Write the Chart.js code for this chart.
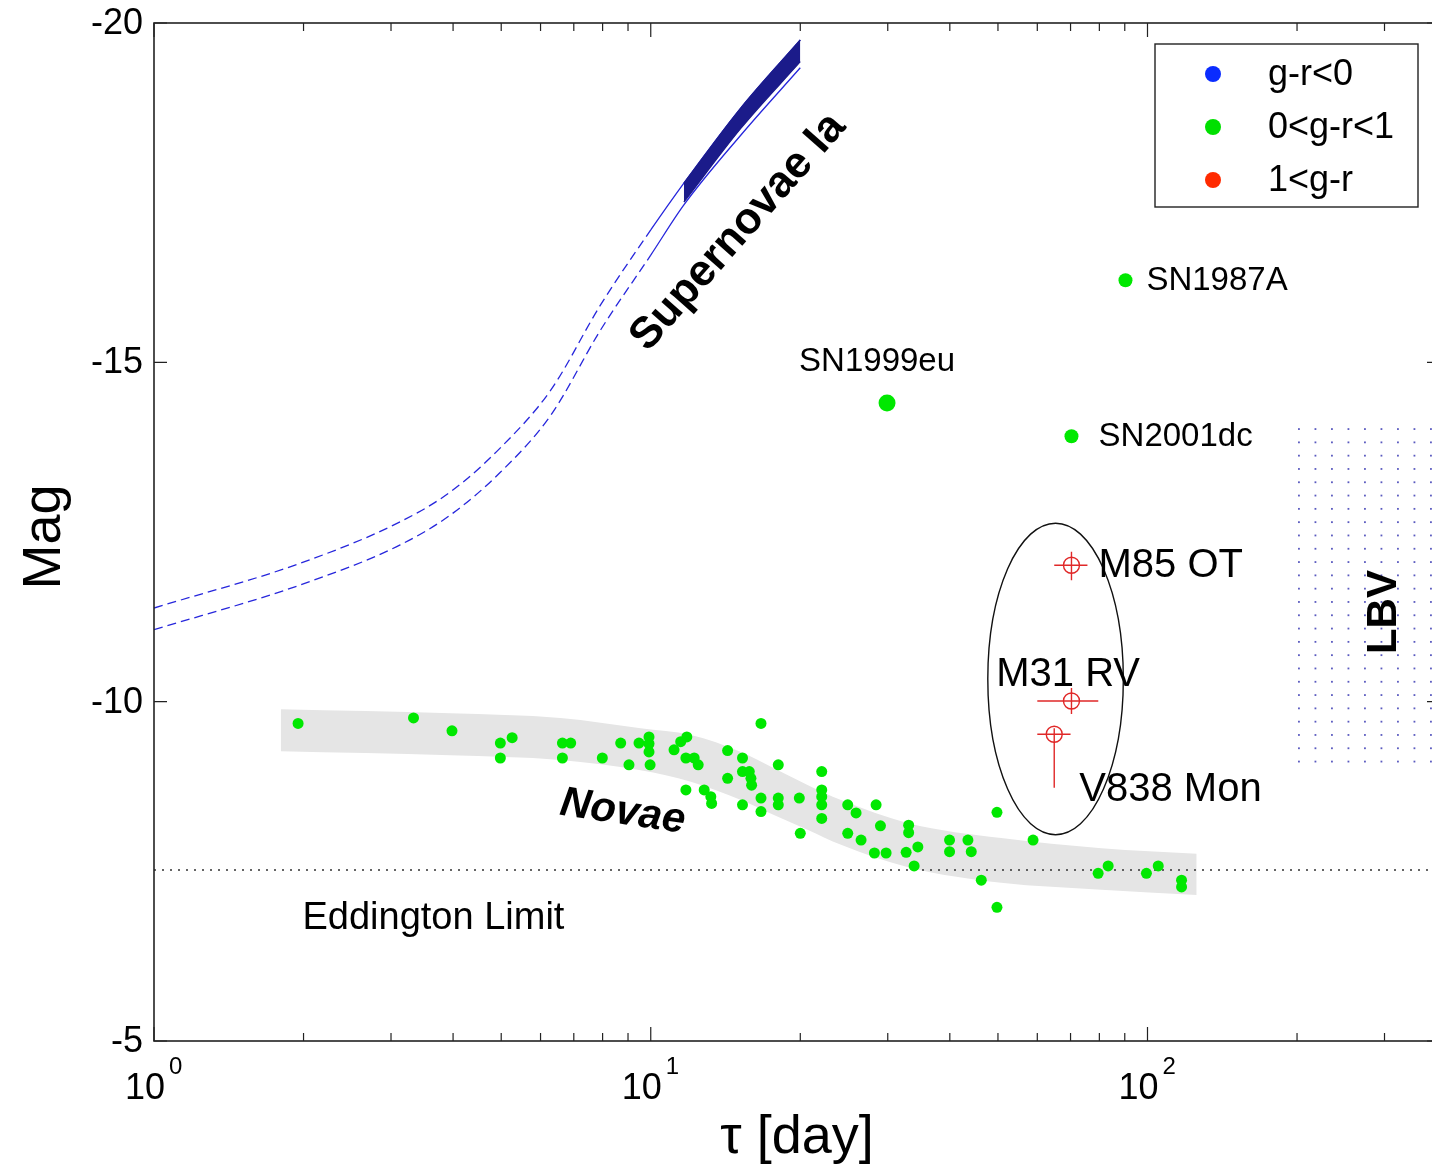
<!DOCTYPE html>
<html>
<head>
<meta charset="utf-8">
<script src="https://cdn.jsdelivr.net/npm/chart.js@4.4.1/dist/chart.umd.min.js"></script>
<style>
  html, body { margin: 0; padding: 0; background: #fff; overflow: hidden; }
  #wrap { width: 1432px; height: 1173px; overflow: hidden; }
  canvas { display: block; }
</style>
</head>
<body>
<div id="wrap"><canvas id="chart" width="1440" height="1173" style="width:1440px;height:1173px"></canvas></div>
<script>
// axis ranges and ticks
const xMin = 1, xMax = 388;
const yMin = -20, yMax = -5;
const yTicks = [-20, -15, -10, -5];
const xMajor = [1, 10, 100];
const xMajorExp = ["0", "1", "2"];
const xMinor = [2, 3, 4, 5, 6, 7, 8, 9, 20, 30, 40, 50, 60, 70, 80, 90, 200, 300];

// novae (0<g-r<1)
const novaeDays = [1.95, 3.33, 3.98, 4.98, 5.26, 4.98, 6.64, 6.90, 6.64, 7.99, 8.70, 9.04, 9.47, 9.92, 9.92,
  9.92, 9.97, 11.14, 11.49, 11.82, 11.77, 12.23, 12.46, 16.67, 11.77, 12.81, 13.21, 13.26, 14.28, 14.28,
  15.30, 15.30, 15.79, 15.91, 15.96, 15.30, 16.67, 16.67, 18.06, 18.06, 18.06, 19.91, 20.0, 22.09, 22.09,
  22.09, 22.09, 22.09, 24.92, 25.90, 24.92, 26.51, 28.42, 29.0, 28.20, 29.77, 33.05, 33.05, 34.49, 32.67,
  33.90, 39.95, 39.95, 43.5, 44.18, 46.28, 49.77, 49.77, 58.83, 79.55, 83.33, 99.5, 105.1, 117.1, 117.1];
const novaeMag = [-9.68, -9.76, -9.57, -9.39, -9.47, -9.17, -9.39, -9.39, -9.17, -9.17, -9.39, -9.07, -9.39, -9.48, -9.38,
  -9.26, -9.07, -9.29, -9.41, -9.48, -9.17, -9.17, -9.07, -9.68, -8.70, -8.70, -8.60, -8.50, -9.28, -8.87,
  -9.17, -8.97, -8.97, -8.87, -8.77, -8.48, -8.58, -8.38, -9.07, -8.58, -8.48, -8.58, -8.06, -8.97, -8.70,
  -8.60, -8.48, -8.28, -8.48, -8.36, -8.06, -7.96, -8.48, -8.17, -7.77, -7.77, -8.18, -8.07, -7.86, -7.78,
  -7.58, -7.96, -7.79, -7.96, -7.79, -7.37, -8.37, -6.97, -7.96, -7.47, -7.58, -7.47, -7.58, -7.37, -7.27];

// novae band
const bandDays = [1.80, 3.95, 6.58, 9.54, 12.04, 15.19, 17.70, 20.73, 24.16, 32.97, 50.77, 80.8, 125.6];
const bandTop = [-9.89, -9.83, -9.76, -9.61, -9.51, -9.26, -9.02, -8.77, -8.55, -8.21, -7.99, -7.84, -7.76];
const bandBottom = [-9.27, -9.21, -9.14, -8.99, -8.82, -8.55, -8.33, -8.11, -7.89, -7.56, -7.33, -7.23, -7.15];

// supernovae Ia
const snDays = [1.0, 1.97, 3.13, 3.95, 4.98, 6.29, 7.93, 10.0, 11.66, 15.19, 20.0];
const snUpper = [-11.38, -12.04, -12.65, -13.09, -13.74, -14.59, -15.85, -16.95, -17.64, -18.75, -19.75];
const snLower = [-11.06, -11.72, -12.31, -12.75, -13.38, -14.22, -15.48, -16.58, -17.32, -18.35, -19.34];
const snFillDays = [11.66, 15.19, 20.0];
const snFillTop = [-17.64, -18.75, -19.75];
const snFillBottom = [-17.36, -18.45, -19.43];

// named supernovae
const snNames = ["SN1987A", "SN1999eu", "SN2001dc"];
const snNamedDays = [90.3, 29.9, 70.3];
const snNamedMag = [-16.21, -14.40, -13.91];

// red transients (1<g-r)
const redNames = ["M85 OT", "M31 RV", "V838 Mon"];
const redDays = [70.3, 70.3, 64.9];
const redMag = [-12.01, -10.01, -9.52];
const redDaysLo = [64.9, 60.0, 60.0];
const redDaysHi = [75.7, 79.6, 70.0];
const redMagLo = [-12.21, -10.20, -9.61];
const redMagHi = [-11.79, -9.82, -8.73];

const eddingtonMag = -7.52;
const lbvDays = [200, 388];
const lbvMag = [-14.03, -8.99];
const ellipseDays = [47.7, 89.4];
const ellipseMag = [-12.63, -8.04];

const colorClasses = ["g-r<0", "0<g-r<1", "1<g-r"];
const classColors = ["#0a2cff", "#00e000", "#ff2a00"];

const GREEN = "#00e800";
const RED = "#e02828";
const FONT = '"Liberation Sans", Arial, sans-serif';

const pts = (xs, ys) => xs.map((v, i) => ({ x: v, y: ys[i] }));

const textLabels = [
  { text: "Supernovae Ia", x: 15.0, y: -16.92, font: "bold 44px " + FONT, align: "center", rot: -48.5 },
  { text: "SN1999eu", x: 28.55, y: -15.0, font: "33px " + FONT, align: "center", rot: 0 },
  { text: "SN1987A", x: 99.5, y: -16.2, font: "33px " + FONT, align: "left", rot: 0 },
  { text: "SN2001dc", x: 79.7, y: -13.9, font: "33px " + FONT, align: "left", rot: 0 },
  { text: "M85 OT", x: 79.7, y: -12.0, font: "40px " + FONT, align: "left", rot: 0 },
  { text: "M31 RV", x: 49.6, y: -10.39, font: "40px " + FONT, align: "left", rot: 0 },
  { text: "V838 Mon", x: 72.9, y: -8.70, font: "40px " + FONT, align: "left", rot: 0 },
  { text: "Eddington Limit", x: 1.99, y: -6.81, font: "38px " + FONT, align: "left", rot: 0 },
  { text: "Novae", x: 8.78, y: -8.37, font: "italic bold 42px " + FONT, align: "center", rot: 8.5 },
  { text: "LBV", x: 300, y: -11.32, font: "bold 42px " + FONT, align: "center", rot: -90 }
];

const regionPlugin = {
  id: "regionPlugin",
  beforeDatasetsDraw(chart) {
    const { ctx, scales: { x, y } } = chart;
    const x0 = x.getPixelForValue(lbvDays[0]), x1 = x.getPixelForValue(lbvDays[1]);
    const y0 = y.getPixelForValue(lbvMag[0]), y1 = y.getPixelForValue(lbvMag[1]);
    ctx.save();
    ctx.fillStyle = "rgba(60,60,180,0.85)";
    for (let py = y0; py <= y1 + 0.5; py += 13.3) {
      for (let px = x0 + 1; px <= x1; px += 16.5) {
        ctx.fillRect(px, py, 1.8, 1.8);
      }
    }
    ctx.restore();
  },
  afterDatasetsDraw(chart) {
    const { ctx, scales: { x, y } } = chart;
    ctx.save();
    // error bars
    ctx.strokeStyle = RED;
    ctx.lineWidth = 1.4;
    ctx.beginPath();
    redDays.forEach((d, i) => {
      const px = x.getPixelForValue(d), py = y.getPixelForValue(redMag[i]);
      ctx.moveTo(x.getPixelForValue(redDaysLo[i]), py);
      ctx.lineTo(x.getPixelForValue(redDaysHi[i]), py);
      ctx.moveTo(px, y.getPixelForValue(redMagLo[i]));
      ctx.lineTo(px, y.getPixelForValue(redMagHi[i]));
    });
    ctx.stroke();
    // ellipse
    const ex0 = x.getPixelForValue(ellipseDays[0]), ex1 = x.getPixelForValue(ellipseDays[1]);
    const ey0 = y.getPixelForValue(ellipseMag[0]), ey1 = y.getPixelForValue(ellipseMag[1]);
    ctx.strokeStyle = "#111";
    ctx.lineWidth = 1.4;
    ctx.beginPath();
    ctx.ellipse((ex0 + ex1) / 2, (ey0 + ey1) / 2, (ex1 - ex0) / 2, (ey1 - ey0) / 2, 0, 0, Math.PI * 2);
    ctx.stroke();
    // text labels
    ctx.fillStyle = "#000";
    ctx.textBaseline = "middle";
    textLabels.forEach(t => {
      ctx.save();
      ctx.translate(x.getPixelForValue(t.x), y.getPixelForValue(t.y));
      ctx.rotate(t.rot * Math.PI / 180);
      ctx.font = t.font;
      ctx.textAlign = t.align;
      ctx.fillText(t.text, 0, 0);
      ctx.restore();
    });
    ctx.restore();
  }
};

const axisPlugin = {
  id: "axisPlugin",
  afterDraw(chart) {
    const { ctx, chartArea: a, scales: { x, y } } = chart;
    ctx.save();
    ctx.strokeStyle = "#222";
    ctx.lineWidth = 1.6;
    ctx.strokeRect(a.left, a.top, a.right - a.left, a.bottom - a.top);
    ctx.lineWidth = 1.2;
    ctx.beginPath();
    xMajor.forEach(v => {
      const px = x.getPixelForValue(v);
      ctx.moveTo(px, a.bottom); ctx.lineTo(px, a.bottom - 14);
      ctx.moveTo(px, a.top); ctx.lineTo(px, a.top + 14);
    });
    xMinor.forEach(v => {
      const px = x.getPixelForValue(v);
      ctx.moveTo(px, a.bottom); ctx.lineTo(px, a.bottom - 8);
      ctx.moveTo(px, a.top); ctx.lineTo(px, a.top + 8);
    });
    yTicks.forEach(v => {
      const py = y.getPixelForValue(v);
      ctx.moveTo(a.left, py); ctx.lineTo(a.left + 13, py);
      ctx.moveTo(a.right, py); ctx.lineTo(a.right - 13, py);
    });
    ctx.stroke();

    ctx.fillStyle = "#000";
    ctx.font = "36px " + FONT;
    ctx.textAlign = "right";
    ctx.textBaseline = "middle";
    yTicks.forEach(v => ctx.fillText(String(v), a.left - 11, y.getPixelForValue(v) + 1));

    ctx.textBaseline = "alphabetic";
    xMajor.forEach((v, i) => {
      const px = x.getPixelForValue(v);
      ctx.font = "36px " + FONT;
      ctx.textAlign = "right";
      ctx.fillText("10", px + 11, a.bottom + 58);
      ctx.font = "24px " + FONT;
      ctx.textAlign = "left";
      ctx.fillText(xMajorExp[i], px + 15, a.bottom + 33);
    });

    // axis titles
    ctx.font = "54px " + FONT;
    ctx.textAlign = "center";
    ctx.textBaseline = "middle";
    ctx.fillText("\u03c4 [day]", 797, a.bottom + 97);
    ctx.save();
    ctx.translate(45, 537);
    ctx.rotate(-Math.PI / 2);
    ctx.fillText("Mag", 0, 0);
    ctx.restore();

    // legend
    const lx = 1155, ly = 44, lw = 263, lh = 163;
    ctx.fillStyle = "#fff";
    ctx.fillRect(lx, ly, lw, lh);
    ctx.strokeStyle = "#222";
    ctx.lineWidth = 1.4;
    ctx.strokeRect(lx, ly, lw, lh);
    colorClasses.forEach((c, i) => {
      const cy = ly + 30 + i * 53;
      ctx.fillStyle = classColors[i];
      ctx.beginPath();
      ctx.arc(lx + 58, cy, 8, 0, Math.PI * 2);
      ctx.fill();
      ctx.fillStyle = "#000";
      ctx.font = "36px " + FONT;
      ctx.textAlign = "left";
      ctx.fillText(c, lx + 113, cy + 1);
    });
    ctx.restore();
  }
};

const lineDs = (label, xs, ys, extra) => Object.assign({
  type: "line", label, data: pts(xs, ys), showLine: true, pointRadius: 0,
  borderWidth: 1.3, cubicInterpolationMode: "monotone", fill: false
}, extra);

const snDash = { borderDash: c => (c.p1.parsed.x <= 10.05 ? [9, 5] : undefined) };

new Chart(document.getElementById("chart"), {
  type: "scatter",
  data: {
    datasets: [
      { label: colorClasses[2], data: pts(redDays, redMag), pointStyle: "circle", pointRadius: 8,
        backgroundColor: "rgba(0,0,0,0)", borderColor: RED, borderWidth: 1.4, order: 1 },
      { label: snNames.join(","), data: pts(snNamedDays, snNamedMag), backgroundColor: GREEN,
        borderWidth: 0, pointRadius: c => (c.dataIndex === 1 ? 8.5 : 7), order: 2 },
      { label: colorClasses[1], data: pts(novaeDays, novaeMag), backgroundColor: GREEN,
        borderWidth: 0, pointRadius: 5.5, order: 3 },
      lineDs("SN Ia fill top", snFillDays, snFillTop, { borderColor: "#1b1b8a", backgroundColor: "#1b1b8a", fill: "+1", order: 4 }),
      lineDs("SN Ia fill bottom", snFillDays, snFillBottom, { borderColor: "#1b1b8a", order: 5 }),
      lineDs("SN Ia upper", snDays, snUpper, { borderColor: "#2626dc", segment: snDash, order: 6 }),
      lineDs("SN Ia lower", snDays, snLower, { borderColor: "#2626dc", segment: snDash, order: 7 }),
      lineDs("Eddington", [xMin, xMax], [eddingtonMag, eddingtonMag], { borderColor: "#333", borderWidth: 1.5, borderDash: [2, 6], cubicInterpolationMode: "default", tension: 0, order: 8 }),
      lineDs("Novae band top", bandDays, bandTop, { borderWidth: 0, borderColor: "rgba(0,0,0,0)", backgroundColor: "#e5e5e5", fill: "+1", order: 9 }),
      lineDs("Novae band bottom", bandDays, bandBottom, { borderWidth: 0, borderColor: "rgba(0,0,0,0)", order: 10 })
    ]
  },
  options: {
    responsive: false,
    animation: false,
    layout: { autoPadding: false, padding: { left: 154, top: 23, right: 0, bottom: 132 } },
    scales: {
      x: { type: "logarithmic", min: xMin, max: xMax, display: false },
      y: { type: "linear", min: yMin, max: yMax, reverse: true, display: false }
    },
    plugins: { legend: { display: false }, tooltip: { enabled: false } }
  },
  plugins: [regionPlugin, axisPlugin]
});
</script>
</body>
</html>
